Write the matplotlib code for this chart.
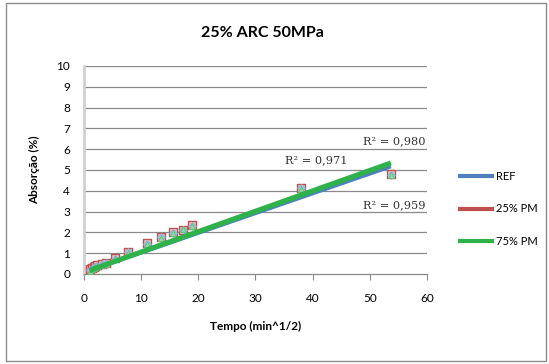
import matplotlib
matplotlib.use("Agg")
import matplotlib.pyplot as plt
from matplotlib.lines import Line2D
import numpy as np

# Square root of elapsed time (min^1/2)
tempo = [1.0, 1.41, 1.73, 2.0, 2.24, 3.16, 3.87, 5.48, 7.75,
         10.95, 13.42, 15.49, 17.32, 18.97, 37.95, 53.67]

# Water absorption (%) for each mix
abs_ref = [0.18, 0.26, 0.32, 0.36, 0.40, 0.46, 0.52, 0.74, 1.05,
           1.46, 1.76, 1.98, 2.13, 2.33, 4.12, 4.78]
abs_25pm = [0.22, 0.30, 0.36, 0.40, 0.44, 0.50, 0.55, 0.77, 1.08,
            1.48, 1.78, 2.00, 2.12, 2.37, 4.15, 4.80]
abs_75pm = [0.16, 0.24, 0.30, 0.34, 0.38, 0.44, 0.50, 0.73, 1.03,
            1.44, 1.74, 1.96, 2.15, 2.32, 4.10, 4.76]

series_names = ["REF", "25% PM", "75% PM"]

# Linear trendlines (slope, intercept) and their R² labels
trend_slope = [0.095, 0.096, 0.098]
trend_intercept = [0.08, 0.12, 0.08]
r2_labels = ["R² = 0,959", "R² = 0,971", "R² = 0,980"]

x_ticks = [0, 10, 20, 30, 40, 50, 60]
y_ticks = list(range(0, 11))

line_colors = ["#4F81BD", "#C0504D", "#2DB34A"]
line_widths = [3.0, 1.6, 3.6]

font = "Lato"
plt.rcParams["font.family"] = [font, "DejaVu Sans"]

fig = plt.figure(figsize=(5.49, 3.64), dpi=100)
ax = fig.add_axes([84 / 549, 1 - 274 / 364, (427 - 84) / 549, (274 - 66) / 364])

# Outer chart frame
fig.patches.append(plt.Rectangle((6 / 549, 3 / 364), 540 / 549, 358 / 364,
                                 transform=fig.transFigure, fill=False,
                                 edgecolor="#8C8C8C", linewidth=1.0))

# Gridlines
for yv in y_ticks[1:]:
    ax.axhline(yv, color="#8A8A8A", linewidth=0.9, zorder=1)

# Data markers
ax.scatter(tempo, abs_25pm, marker="s", s=36, facecolor="#F3C4C3",
           edgecolor="#C0504D", linewidth=1.0, zorder=3)
ax.scatter(tempo, abs_ref, marker="D", s=16, facecolor="#A9C4E6",
           edgecolor="#8DB0DC", linewidth=0.6, zorder=4)
ax.scatter(tempo, abs_75pm, marker="^", s=18, facecolor="#8FD6A0",
           edgecolor="#5CC377", linewidth=0.6, zorder=5)

# Trendlines
xmin, xmax = min(tempo), max(tempo)
xs = np.array([xmin, xmax])
for slope, icpt, c, lw in zip(trend_slope, trend_intercept, line_colors, line_widths):
    ax.plot(xs, slope * xs + icpt, color=c, linewidth=lw, zorder=6,
            solid_capstyle="butt")

# R² annotations
tfont = "DejaVu Serif"
ax.text(59.7, 3.3, r2_labels[0], ha="right", va="center", fontsize=8.2,
        family=tfont, color="#333333")
ax.text(40.7, 5.48, r2_labels[1], ha="center", va="center", fontsize=8.2,
        family=tfont, color="#333333")
ax.text(59.7, 6.4, r2_labels[2], ha="right", va="center", fontsize=8.2,
        family=tfont, color="#333333")

ax.set_xlim(0, 60)
ax.set_ylim(0, 10)
ax.set_xticks(x_ticks)
ax.set_yticks(y_ticks)
ax.tick_params(axis="x", direction="out", length=4, color="#8A8A8A",
               labelsize=8.5, pad=10)
ax.tick_params(axis="y", length=0, labelsize=8.5, pad=10)

for side in ["top", "right"]:
    ax.spines[side].set_visible(False)
ax.spines["left"].set_color("#D0D0D0")
ax.spines["left"].set_linewidth(2.0)
ax.spines["bottom"].set_color("#8A8A8A")
ax.spines["bottom"].set_linewidth(0.9)

ax.set_xlabel("Tempo (min^1/2)", fontsize=8.5, fontweight="bold", labelpad=12)
ax.set_ylabel("Absorção (%)", fontsize=8.5, fontweight="bold", labelpad=12)
fig.text(262 / 549, 1 - 33 / 364, "25% ARC 50MPa", ha="center", va="center",
         fontsize=11.5, fontweight="bold")

handles = [Line2D([0], [0], color=c, linewidth=3.0) for c in line_colors]
fig.legend(handles, series_names, loc="center left",
           bbox_to_anchor=(450 / 549, 1 - 209 / 364), frameon=False,
           fontsize=8, handlelength=2.9, handletextpad=0.3, labelspacing=1.9)

fig.savefig("out.png", dpi=100)
